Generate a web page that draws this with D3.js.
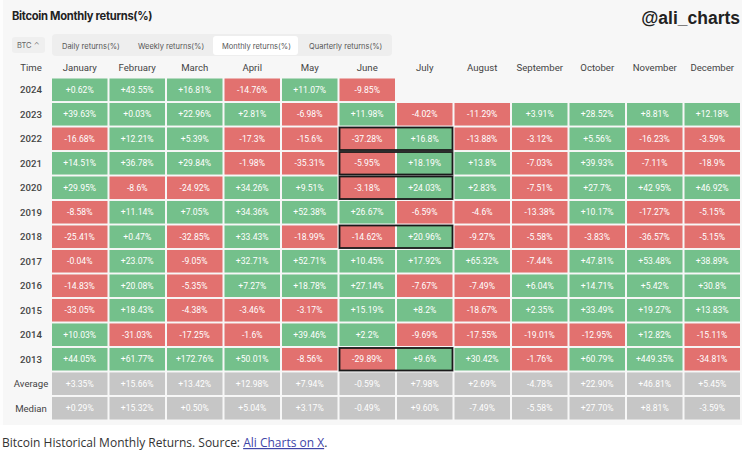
<!DOCTYPE html>
<html><head><meta charset="utf-8">
<script src="https://cdn.jsdelivr.net/npm/d3@7"></script>
<style>
html,body{margin:0;padding:0;background:#fff;}
svg{display:block;}
</style></head>
<body>
<svg id="chart" width="742" height="458"></svg>
<script>
const months = ["January","February","March","April","May","June","July","August","September","October","November","December"];
const years = ["2024","2023","2022","2021","2020","2019","2018","2017","2016","2015","2014","2013"];
const r2024 = [0.62, 43.55, 16.81, -14.76, 11.07, -9.85, null, null, null, null, null, null];
const r2023 = [39.63, 0.03, 22.96, 2.81, -6.98, 11.98, -4.02, -11.29, 3.91, 28.52, 8.81, 12.18];
const r2022 = [-16.68, 12.21, 5.39, -17.3, -15.6, -37.28, 16.8, -13.88, -3.12, 5.56, -16.23, -3.59];
const r2021 = [14.51, 36.78, 29.84, -1.98, -35.31, -5.95, 18.19, 13.8, -7.03, 39.93, -7.11, -18.9];
const r2020 = [29.95, -8.6, -24.92, 34.26, 9.51, -3.18, 24.03, 2.83, -7.51, 27.7, 42.95, 46.92];
const r2019 = [-8.58, 11.14, 7.05, 34.36, 52.38, 26.67, -6.59, -4.6, -13.38, 10.17, -17.27, -5.15];
const r2018 = [-25.41, 0.47, -32.85, 33.43, -18.99, -14.62, 20.96, -9.27, -5.58, -3.83, -36.57, -5.15];
const r2017 = [-0.04, 23.07, -9.05, 32.71, 52.71, 10.45, 17.92, 65.32, -7.44, 47.81, 53.48, 38.89];
const r2016 = [-14.83, 20.08, -5.35, 7.27, 18.78, 27.14, -7.67, -7.49, 6.04, 14.71, 5.42, 30.8];
const r2015 = [-33.05, 18.43, -4.38, -3.46, -3.17, 15.19, 8.2, -18.67, 2.35, 33.49, 19.27, 13.83];
const r2014 = [10.03, -31.03, -17.25, -1.6, 39.46, 2.2, -9.69, -17.55, -19.01, -12.95, 12.82, -15.11];
const r2013 = [44.05, 61.77, 172.76, 50.01, -8.56, -29.89, 9.6, 30.42, -1.76, 60.79, 449.35, -34.81];
const average = [3.35, 15.66, 13.42, 12.98, 7.94, -0.59, 7.98, 2.69, -4.78, 22.90, 46.81, 5.45];
const median = [0.29, 15.32, 0.50, 5.04, 3.17, -0.49, 9.60, -7.49, -5.58, 27.70, 8.81, -3.59];
const yearValues = [r2024, r2023, r2022, r2021, r2020, r2019, r2018, r2017, r2016, r2015, r2014, r2013];
const highlightYears = ["2022","2021","2020","2018","2013"];
const highlightMonths = ["June","July"];
const tabs = ["Daily returns(%)","Weekly returns(%)","Monthly returns(%)","Quarterly returns(%)"];

const svg = d3.select("#chart");
const GREEN = "#74c08b", RED = "#e2716f", GRAY = "#c6c6c6";

// page background
svg.append("rect").attr("x",0).attr("y",0).attr("width",742).attr("height",425).attr("fill","#f7f7f7");
svg.append("rect").attr("x",0).attr("y",0).attr("width",3).attr("height",425).attr("fill","#fdfdfd");

// title
svg.append("text").attr("x",12).attr("y",20).text("Bitcoin Monthly returns(%)")
  .attr("font-family","Inter, 'Liberation Sans', sans-serif").attr("font-weight",700)
  .attr("font-size",11.2).attr("fill","#222").attr("letter-spacing",-0.3);
svg.append("text").attr("x",740).attr("y",24).attr("text-anchor","end").text("@ali_charts")
  .attr("font-family","'Liberation Sans', Arial, sans-serif").attr("font-weight",700)
  .attr("font-size",17.5).attr("fill","#222");

// BTC selector
svg.append("rect").attr("x",12).attr("y",37).attr("width",33).attr("height",16).attr("rx",3).attr("fill","#efefef");
svg.append("text").attr("x",17).attr("y",48).text("BTC ⌃").attr("font-family","Inter, sans-serif")
  .attr("font-size",7.5).attr("fill","#666");

// tabs
svg.append("rect").attr("x",52).attr("y",34).attr("width",340).attr("height",22).attr("rx",4).attr("fill","#eeeeee");
const tabX = [62, 138, 222, 309];
svg.append("rect").attr("x",213).attr("y",36).attr("width",85).attr("height",19).attr("rx",3).attr("fill","#ffffff");
svg.selectAll("text.tab").data(tabs).join("text").attr("class","tab")
  .attr("x",(d,i)=>tabX[i]).attr("y",48.5).text(d=>d)
  .attr("font-family","Inter, sans-serif").attr("font-size",7.5).attr("fill","#555");

// scales
const rows = years.concat(["Average","Median"]);
const x = d3.scaleBand().domain(months).range([52, 740]).paddingInner(0.035).paddingOuter(0);
const y = d3.scaleBand().domain(rows).range([78.5, 419.5]).paddingInner(0.08).paddingOuter(0);

const textFont = "Roboto, 'DejaVu Sans', sans-serif";

// header
svg.selectAll("text.mh").data(months).join("text").attr("class","mh")
  .attr("x",d=>x(d)+x.bandwidth()/2).attr("y",71).attr("text-anchor","middle").text(d=>d)
  .attr("font-family",textFont).attr("font-size",9.6).attr("fill","#444");
svg.append("text").attr("x",31).attr("y",71).attr("text-anchor","middle").text("Time")
  .attr("font-family",textFont).attr("font-size",9.6).attr("fill","#444");

// row labels
svg.selectAll("text.rl").data(rows).join("text").attr("class","rl")
  .attr("x",31).attr("y",d=>y(d)+y.bandwidth()/2+3.5).attr("text-anchor","middle").text(d=>d)
  .attr("font-family",textFont).attr("font-size",9.6)
  .attr("font-weight",d=>/^\d+$/.test(d)?500:400).attr("fill","#444");

// cells
const cells = [];
years.forEach((yr,i)=>{
  yearValues[i].forEach((v,j)=>{
    if (v!==null) cells.push({row:yr, month:months[j], v, label:(v>=0?"+":"")+v+"%", fill: v>=0?GREEN:RED});
  });
});
average.forEach((v,j)=>cells.push({row:"Average", month:months[j], v, label:(v>=0?"+":"")+v.toFixed(2)+"%", fill:GRAY}));
median.forEach((v,j)=>cells.push({row:"Median", month:months[j], v, label:(v>=0?"+":"")+v.toFixed(2)+"%", fill:GRAY}));

const g = svg.append("g");
g.selectAll("rect.cell").data(cells).join("rect").attr("class","cell")
  .attr("x",d=>x(d.month)).attr("y",d=>y(d.row))
  .attr("width",x.bandwidth()).attr("height",y.bandwidth()).attr("fill",d=>d.fill);
g.selectAll("text.cell").data(cells).join("text").attr("class","cell")
  .attr("x",d=>x(d.month)+x.bandwidth()/2).attr("y",d=>y(d.row)+y.bandwidth()/2+3.2)
  .attr("text-anchor","middle").text(d=>d.label)
  .attr("font-family",textFont).attr("font-size",8.6).attr("fill","#fff");

// highlight boxes
const x0 = x(highlightMonths[0]), x1 = x(highlightMonths[1]) + x.bandwidth();
svg.selectAll("rect.hl").data(highlightYears).join("rect").attr("class","hl")
  .attr("x",x0).attr("y",d=>y(d)).attr("width",x1-x0).attr("height",y.bandwidth())
  .attr("fill","none").attr("stroke","#1a1a1a").attr("stroke-width",1.8);

// caption
const cap = svg.append("text").attr("x",2).attr("y",447)
  .attr("font-family","'Open Sans', sans-serif").attr("font-size",12).attr("fill","#333");
cap.append("tspan").text("Bitcoin Historical Monthly Returns. Source: ");
cap.append("tspan").text("Ali Charts on X").attr("fill","#4045a8").attr("text-decoration","underline");
cap.append("tspan").text(".");
</script>
</body></html>
